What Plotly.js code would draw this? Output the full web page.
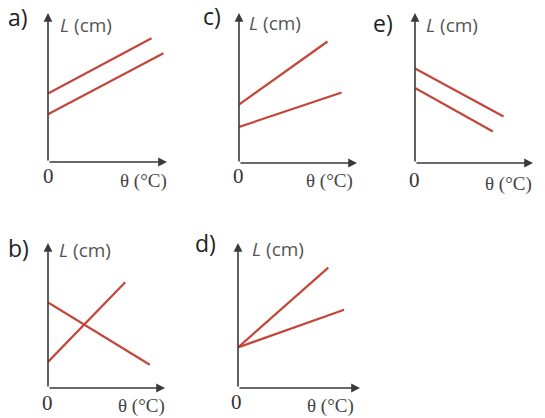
<!DOCTYPE html>
<html>
<head>
<meta charset="utf-8">
<script src="https://cdn.plot.ly/plotly-3.0.1.min.js"></script>
<style>
  html, body { margin: 0; padding: 0; background: #fff; }
  #chart { width: 545px; height: 418px; }
</style>
</head>
<body>
<div id="chart"></div>
<script>
// ── Data (axis units 0–10 in each panel) ─────────────────────
const PANEL_LABELS = ["a)", "b)", "c)", "d)", "e)"];

const aTheta1 = [0, 8.7],  aLen1 = [4.6, 8.3];
const aTheta2 = [0, 9.7],  aLen2 = [3.2, 7.3];

const bTheta1 = [0, 6.6],  bLen1 = [1.8, 7.3];
const bTheta2 = [0, 8.7],  bLen2 = [5.9, 1.6];

const cTheta1 = [0, 7.5],  cLen1 = [3.9, 8.1];
const cTheta2 = [0, 8.7],  cLen2 = [2.4, 4.7];

const dTheta1 = [0, 7.4],  dLen1 = [2.8, 8.3];
const dTheta2 = [0, 8.7],  dLen2 = [2.8, 5.4];

const eTheta1 = [0, 7.5],  eLen1 = [6.3, 3.1];
const eTheta2 = [0, 6.6],  eLen2 = [5.0, 2.1];

// ── Layout helpers ───────────────────────────────────────────
const W = 545, H = 418;
const RED  = "#c2463a";
const AXIS = "#3a3a3a";

// pixel boxes of each panel's plotting area: [left, right, top, bottom]
const BOXES = {
  a: [48, 167, 13, 162],
  b: [48, 165, 243, 388],
  c: [239, 357, 13, 163],
  d: [238, 360, 243, 388],
  e: [415, 533, 13, 163],
};
// text anchors in pixels
const TEXT_POS = {
  a: { lab: [18, 17],  L: [86, 25],  zero: [48, 176],  th: [143, 181] },
  b: { lab: [18, 248], L: [85, 250], zero: [47, 403],  th: [141, 406] },
  c: { lab: [212, 16], L: [275, 23], zero: [238, 176], th: [329, 181] },
  d: { lab: [205, 243],L: [278, 249],zero: [236, 402], th: [330, 406] },
  e: { lab: [383, 23], L: [452, 25], zero: [414, 180], th: [508, 184] },
};

const px = x => x / W;
const py = y => 1 - y / H;

const KEYS = ["a", "b", "c", "d", "e"];
const SERIES = {
  a: [[aTheta1, aLen1], [aTheta2, aLen2]],
  b: [[bTheta1, bLen1], [bTheta2, bLen2]],
  c: [[cTheta1, cLen1], [cTheta2, cLen2]],
  d: [[dTheta1, dLen1], [dTheta2, dLen2]],
  e: [[eTheta1, eLen1], [eTheta2, eLen2]],
};

const traces = [];
const annotations = [];
const layout = {
  width: W, height: H,
  margin: { t: 0, r: 0, b: 0, l: 0 },
  paper_bgcolor: "#ffffff",
  plot_bgcolor: "rgba(0,0,0,0)",
  showlegend: false,
};

const hiddenAxis = {
  range: [0, 10], showgrid: false, zeroline: false, showline: false,
  showticklabels: false, ticks: "", fixedrange: true,
};

KEYS.forEach((k, i) => {
  const n = i === 0 ? "" : String(i + 1);
  const xa = "x" + n, ya = "y" + n;
  const [l, r, t, b] = BOXES[k];

  layout["xaxis" + n] = { ...hiddenAxis, domain: [px(l), px(r)], anchor: ya };
  layout["yaxis" + n] = { ...hiddenAxis, domain: [py(b), py(t)], anchor: xa };

  SERIES[k].forEach(([xs, ys]) => {
    traces.push({
      x: xs, y: ys, xaxis: xa, yaxis: ya,
      type: "scatter", mode: "lines",
      line: { color: RED, width: 2.2 },
      hoverinfo: "skip",
    });
  });

  // axes with arrowheads
  const arrow = { xref: xa, yref: ya, axref: xa, ayref: ya, text: "",
    showarrow: true, arrowhead: 2, arrowsize: 1.1, arrowwidth: 1.6, arrowcolor: AXIS };
  annotations.push({ ...arrow, x: 10, y: 0, ax: 0, ay: 0 });
  annotations.push({ ...arrow, x: 0, y: 10, ax: 0, ay: 0 });

  const p = TEXT_POS[k];
  const txt = (pos, text, font) => annotations.push({
    xref: "paper", yref: "paper", x: px(pos[0]), y: py(pos[1]),
    xanchor: "center", yanchor: "middle", showarrow: false, text, font,
  });
  txt(p.lab, PANEL_LABELS[i], { family: "Open Sans, sans-serif", size: 23, color: "#1e1e1e" });
  txt(p.L, "<i>L</i> (cm)", { family: "Open Sans, sans-serif", size: 19, color: "#555" });
  txt(p.zero, "0", { family: "Liberation Serif, serif", size: 21, color: "#333" });
  txt(p.th, "θ (°C)", { family: "Liberation Serif, serif", size: 19, color: "#444" });
});

layout.annotations = annotations;

Plotly.newPlot("chart", traces, layout, { staticPlot: true, displayModeBar: false });
</script>
</body>
</html>
